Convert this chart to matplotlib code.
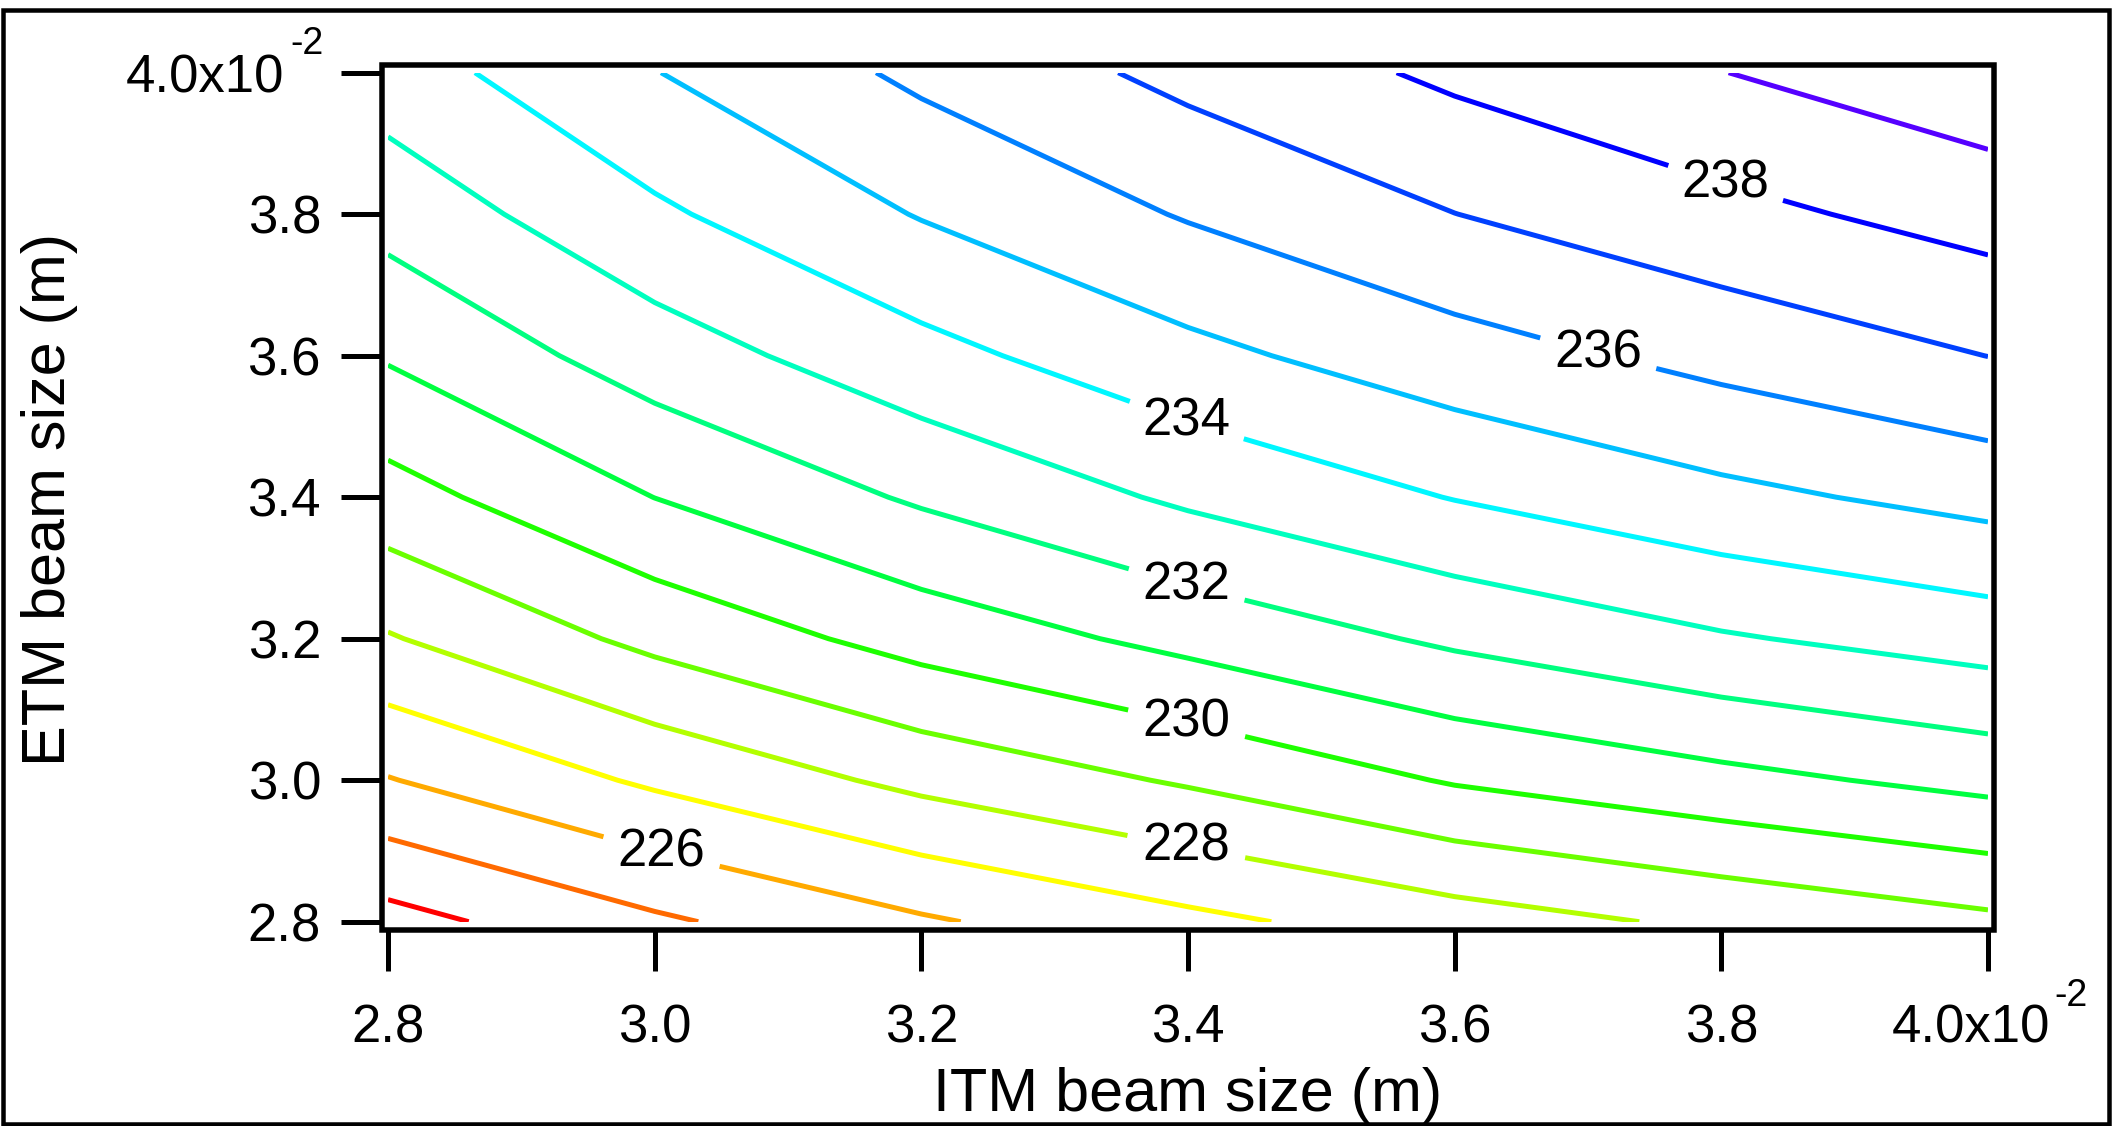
import numpy as np
import matplotlib
matplotlib.use("Agg")
import matplotlib.pyplot as plt
from matplotlib.patches import Rectangle
from matplotlib.colors import hsv_to_rgb
from matplotlib.transforms import ScaledTranslation

plt.rcParams['font.family'] = ['Liberation Sans', 'DejaVu Sans']

# ---------------- data ----------------
itm_beam = [0.028, 0.030, 0.032, 0.034, 0.036, 0.038, 0.040]   # x (m)
etm_beam = [0.028, 0.030, 0.032, 0.034, 0.036, 0.038, 0.040]   # y (m)
z_row_28 = [223.64, 224.83, 225.87, 226.75, 227.55, 228.20, 228.79]
z_row_30 = [225.95, 227.17, 228.27, 229.12, 230.09, 230.72, 231.30]
z_row_32 = [227.92, 229.27, 230.39, 231.30, 232.18, 232.90, 233.44]
z_row_34 = [229.61, 231.01, 232.14, 233.18, 234.04, 234.75, 235.33]
z_row_36 = [231.10, 232.50, 233.68, 234.73, 235.59, 236.32, 237.01]
z_row_38 = [232.36, 233.83, 235.06, 236.08, 236.99, 237.72, 238.40]
z_row_40 = [233.53, 234.97, 236.21, 237.28, 238.20, 238.98, 239.71]
levels = list(range(224, 240))
label_spots = [(0.03004, 0.02890), (0.03398, 0.02899), (0.03398, 0.03072),
               (0.03398, 0.03270), (0.03398, 0.03503), (0.03706, 0.03592),
               (0.03802, 0.03836)]   # labels 226, 228, ..., 238
tick_values = [0.028, 0.030, 0.032, 0.034, 0.036, 0.038, 0.040]
tick_labels = ['2.8', '3.0', '3.2', '3.4', '3.6', '3.8', '4.0x10']
exponent_text = '-2'

# ---------------- styling ----------------
W, H, DPI = 2112, 1126, 100
px = 72.0 / DPI  # points per pixel
hues = [0, 25, 40, 60, 78, 95, 113, 135, 150, 165, 182, 195, 210, 225, 240, 260]
line_colors = [hsv_to_rgb((h / 360.0, 1.0, 1.0)) for h in hues]

fig = plt.figure(figsize=(W / DPI, H / DPI), dpi=DPI)
ax = fig.add_axes([388 / W, (H - 921.7) / H, 1600 / W, 849 / H])
ax.set_xlim(0.028, 0.040)
ax.set_ylim(0.028, 0.040)

Z = np.array([z_row_28, z_row_30, z_row_32, z_row_34, z_row_36, z_row_38, z_row_40])
cs = ax.contour(itm_beam, etm_beam, Z, levels=levels, colors=line_colors,
                linewidths=5.0 * px)
texts = ax.clabel(cs, levels=levels, manual=label_spots, inline=True,
                  inline_spacing=16, fmt='%d', fontsize=38, colors='black')
for t in texts:
    t.set_rotation(0)
    t.set_zorder(5)

for s in ax.spines.values():
    s.set_visible(False)
ax.spines['left'].set_position(('outward', 6.4 * px))
ax.spines['bottom'].set_position(('outward', 8.3 * px))

ax.set_xticks(tick_values)
ax.set_xticklabels(tick_labels)
ax.set_yticks(tick_values)
ax.set_yticklabels(tick_labels)
ax.tick_params(axis='both', which='both', direction='out', length=40.7 * px,
               width=5 * px, labelsize=38, top=False, right=False)
ax.tick_params(axis='x', pad=32.6 * px)
ax.tick_params(axis='y', pad=20 * px)

# frame around plot area (drawn slightly outside the data area)
fig.patches.append(Rectangle((381.6 / W, (H - 930) / H), (1994 - 381.6) / W, (930 - 65) / H,
                             transform=fig.transFigure, fill=False, edgecolor='black',
                             linewidth=5.5 * px, joinstyle='miter'))
# outer border of the figure
fig.patches.append(Rectangle((2.5 / W, 2 / H), (2109 - 2.5) / W, (1124 - 9.5) / H,
                             transform=fig.transFigure, fill=False, edgecolor='black',
                             linewidth=4.5 * px, joinstyle='miter'))

# exponent on last tick labels
xl = ax.get_xticklabels()[-1]
yl = ax.get_yticklabels()[-1]
xl.set_transform(xl.get_transform() + ScaledTranslation(-17 / DPI, 0, fig.dpi_scale_trans))
yl.set_transform(yl.get_transform() + ScaledTranslation(-37 / DPI, 0, fig.dpi_scale_trans))
ax.annotate(exponent_text, xy=(1, 1), xycoords=xl, xytext=(4 * px, 25 * px),
            textcoords='offset points', ha='left', va='top', fontsize=27,
            annotation_clip=False)
ax.annotate(exponent_text, xy=(1, 1), xycoords=yl, xytext=(6 * px, 27 * px),
            textcoords='offset points', ha='left', va='top', fontsize=27,
            annotation_clip=False)

fig.text(1188 / W, (H - 1111) / H, 'ITM beam size (m)', ha='center', va='baseline',
         fontsize=44)
fig.text(65 / W, (H - 500) / H, 'ETM beam size (m)', rotation=90, rotation_mode='anchor',
         ha='center', va='baseline', fontsize=44)

fig.savefig('out.png', dpi=DPI)
